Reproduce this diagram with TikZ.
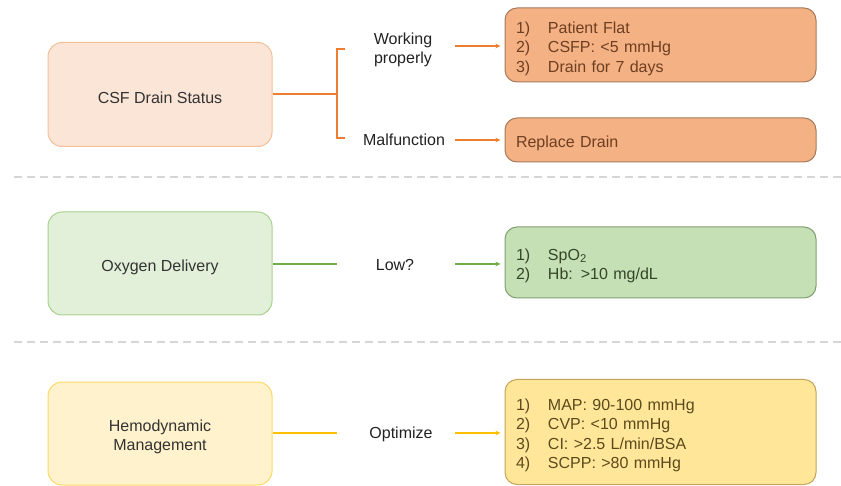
\documentclass[tikz,border=0pt]{standalone}
\usepackage{fontspec}
\setmainfont{Liberation Sans}
\usetikzlibrary{arrows.meta}
\definecolor{oFillL}{HTML}{FBE5D6}
\definecolor{oDrawL}{HTML}{F4C09A}
\definecolor{oFillR}{HTML}{F4B183}
\definecolor{oDrawR}{HTML}{A8795A}
\definecolor{oText}{HTML}{6E3F22}
\definecolor{oLine}{HTML}{ED7D31}
\definecolor{gFillL}{HTML}{E2F0D9}
\definecolor{gDrawL}{HTML}{A9D18E}
\definecolor{gFillR}{HTML}{C5E0B4}
\definecolor{gDrawR}{HTML}{7F9F6F}
\definecolor{gText}{HTML}{34462A}
\definecolor{gLine}{HTML}{70AD47}
\definecolor{yFillL}{HTML}{FFF2CC}
\definecolor{yDrawL}{HTML}{FFD966}
\definecolor{yFillR}{HTML}{FFE699}
\definecolor{yDrawR}{HTML}{C4A45A}
\definecolor{yText}{HTML}{5C4A1C}
\definecolor{yLine}{HTML}{FFC000}
\definecolor{sepGray}{HTML}{D6D6D6}
\definecolor{lblText}{HTML}{222222}
\definecolor{boxText}{HTML}{333333}
\newcommand{\itm}[2]{\makebox[32pt][l]{#1}#2}
\newcommand{\lowr}{\rule{0pt}{18.5pt}}
\tikzset{
  x=1pt, y=-1pt,
  mainbox/.style={rectangle, rounded corners=14pt, line width=1pt, minimum width=224pt, minimum height=103pt, align=center, text=boxText, font=\fontsize{16}{19.5}\selectfont},
  listbox/.style={rectangle, rounded corners=12pt, line width=1pt, text width=289pt, inner xsep=11pt, inner ysep=0pt, minimum width=311pt, align=left, font=\fontsize{16}{19.5}\selectfont},
  lbl/.style={align=center, text=lblText, font=\fontsize{16}{19.5}\selectfont},
  conn/.style={line width=1.4pt},
  arr/.style={line width=1.4pt, -{Stealth[length=5pt,width=4.5pt]}, shorten >=4pt},
  sepline/.style={sepGray, line width=1.3pt, dash pattern=on 8pt off 5pt}
}
\begin{document}
\begin{tikzpicture}
\useasboundingbox (0,0) rectangle (841,486);
% separators
\draw[sepline] (14,177) -- (841,177);
\draw[sepline] (14,342) -- (841,342);

% Row 1
\node[mainbox, fill=oFillL, draw=oDrawL, minimum height=104pt] (csf) at (160,94.5) {\lowr CSF Drain Status};
\node[lbl] (wp) at (403,50) {Working\\properly};
\node[lbl] (mf) at (404,139.5) {Malfunction};
\node[listbox, fill=oFillR, draw=oDrawR, text=oText, minimum height=74pt] (r1a) at (660.5,45) {\lowr\itm{1)}{Patient Flat}\\\itm{2)}{CSFP: <5 mmHg}\\\itm{3)}{Drain for 7 days}};
\node[listbox, fill=oFillR, draw=oDrawR, text=oText, minimum height=44pt] (r1b) at (660.5,140) {\lowr Replace Drain};
\coordinate (b1) at (337,94);
\coordinate (bt) at (345,49);
\coordinate (bb) at (345,138);
\draw[conn, oLine] (csf.east |- b1) -- (b1);
\draw[conn, oLine] (bt) -- (bt -| b1) -- (bb -| b1) -- (bb);
\coordinate (a1) at (455,46);
\coordinate (a2) at (455,140);
\draw[arr, oLine] (a1) -- (a1 -| r1a.west);
\draw[arr, oLine] (a2) -- (a2 -| r1b.west);

% Row 2
\node[mainbox, fill=gFillL, draw=gDrawL] (oxy) at (160,263.5) {\lowr Oxygen Delivery};
\node[lbl] (low) at (395,265) {Low?};
\node[listbox, fill=gFillR, draw=gDrawR, text=gText, minimum height=71pt] (r2) at (660.5,262.5) {\lowr\itm{1)}{SpO\textsubscript{2}}\\\itm{2)}{Hb: >10 mg/dL}};
\coordinate (e2) at (337,264);
\draw[conn, gLine] (oxy.east |- e2) -- (e2);
\coordinate (a3) at (455,264);
\draw[arr, gLine] (a3) -- (a3 -| r2.west);

% Row 3
\node[mainbox, fill=yFillL, draw=yDrawL] (hemo) at (160,433.5) {\lowr Hemodynamic\\Management};
\node[lbl] (opt) at (401,434) {Optimize};
\node[listbox, fill=yFillR, draw=yDrawR, text=yText, minimum height=105pt] (r3) at (660.5,432) {\lowr\itm{1)}{MAP: 90-100 mmHg}\\\itm{2)}{CVP: <10 mmHg}\\\itm{3)}{CI: >2.5 L/min/BSA}\\\itm{4)}{SCPP: >80 mmHg}};
\coordinate (e3) at (337,433);
\draw[conn, yLine] (hemo.east |- e3) -- (e3);
\coordinate (a4) at (455,433);
\draw[arr, yLine] (a4) -- (a4 -| r3.west);
\end{tikzpicture}
\end{document}
